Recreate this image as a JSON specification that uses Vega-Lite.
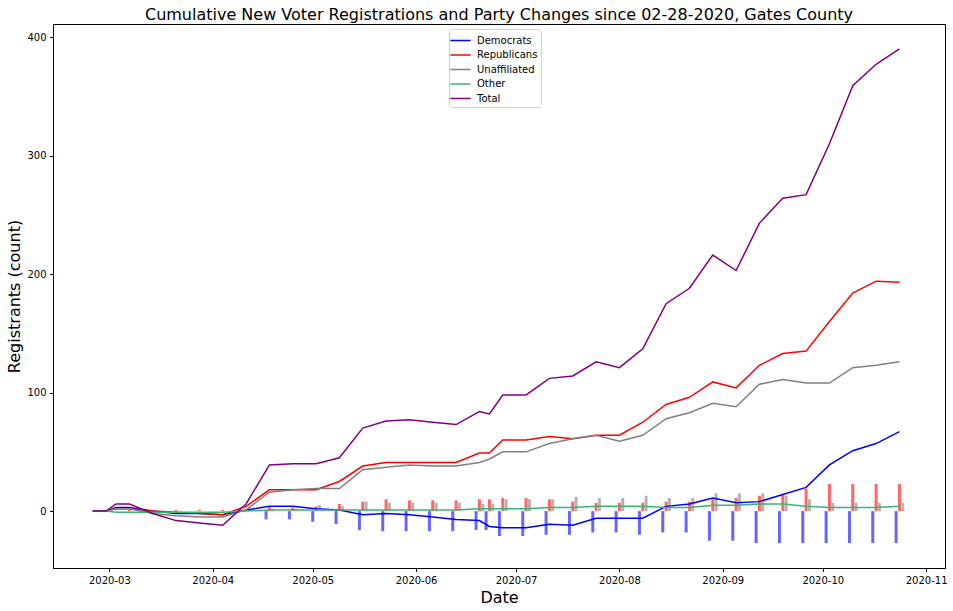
{
  "$schema": "https://vega.github.io/schema/vega-lite/v6.json",
  "width": 892,
  "height": 544,
  "autosize": {"type": "none"},
  "padding": {"left": 53, "top": 24, "right": 8, "bottom": 43},
  "config": {
    "font": "DejaVu Sans",
    "view": {"stroke": "black", "strokeWidth": 1},
    "axis": {"grid": false, "domainColor": "black", "tickColor": "black", "labelColor": "black", "titleColor": "black", "labelFontSize": 10, "titleFontSize": 16, "titleFontWeight": "normal", "tickSize": 3.5, "labelPadding": 3.5, "labelFont": "DejaVu Sans", "titleFont": "DejaVu Sans"},
    "legend": {"labelFont": "DejaVu Sans"}
  },
  "title": {"text": "Cumulative New Voter Registrations and Party Changes since 02-28-2020, Gates County", "fontSize": 16, "fontWeight": "normal", "font": "DejaVu Sans", "color": "black", "anchor": "middle", "offset": 1},
  "datasets": {
    "lines": [
      {"date": "2020/02/25", "series": "Democrats", "count": 0},
      {"date": "2020/02/29", "series": "Democrats", "count": 0},
      {"date": "2020/03/03", "series": "Democrats", "count": 3},
      {"date": "2020/03/07", "series": "Democrats", "count": 3},
      {"date": "2020/03/14", "series": "Democrats", "count": 0},
      {"date": "2020/03/21", "series": "Democrats", "count": -2},
      {"date": "2020/03/28", "series": "Democrats", "count": -2},
      {"date": "2020/04/04", "series": "Democrats", "count": -3},
      {"date": "2020/04/11", "series": "Democrats", "count": 1},
      {"date": "2020/04/18", "series": "Democrats", "count": 4},
      {"date": "2020/04/25", "series": "Democrats", "count": 4},
      {"date": "2020/05/02", "series": "Democrats", "count": 2},
      {"date": "2020/05/09", "series": "Democrats", "count": 1},
      {"date": "2020/05/16", "series": "Democrats", "count": -3},
      {"date": "2020/05/23", "series": "Democrats", "count": -2},
      {"date": "2020/05/30", "series": "Democrats", "count": -3},
      {"date": "2020/06/06", "series": "Democrats", "count": -5},
      {"date": "2020/06/13", "series": "Democrats", "count": -7},
      {"date": "2020/06/20", "series": "Democrats", "count": -8},
      {"date": "2020/06/23", "series": "Democrats", "count": -13},
      {"date": "2020/06/27", "series": "Democrats", "count": -14},
      {"date": "2020/07/04", "series": "Democrats", "count": -14},
      {"date": "2020/07/11", "series": "Democrats", "count": -11},
      {"date": "2020/07/18", "series": "Democrats", "count": -12},
      {"date": "2020/07/25", "series": "Democrats", "count": -6},
      {"date": "2020/08/01", "series": "Democrats", "count": -6},
      {"date": "2020/08/08", "series": "Democrats", "count": -6},
      {"date": "2020/08/15", "series": "Democrats", "count": 4},
      {"date": "2020/08/22", "series": "Democrats", "count": 6},
      {"date": "2020/08/29", "series": "Democrats", "count": 11},
      {"date": "2020/09/05", "series": "Democrats", "count": 7},
      {"date": "2020/09/12", "series": "Democrats", "count": 8},
      {"date": "2020/09/19", "series": "Democrats", "count": 14},
      {"date": "2020/09/26", "series": "Democrats", "count": 20},
      {"date": "2020/10/03", "series": "Democrats", "count": 39},
      {"date": "2020/10/10", "series": "Democrats", "count": 51},
      {"date": "2020/10/17", "series": "Democrats", "count": 57},
      {"date": "2020/10/24", "series": "Democrats", "count": 67},

      {"date": "2020/02/25", "series": "Republicans", "count": 0},
      {"date": "2020/02/29", "series": "Republicans", "count": 0},
      {"date": "2020/03/03", "series": "Republicans", "count": 2},
      {"date": "2020/03/07", "series": "Republicans", "count": 2},
      {"date": "2020/03/14", "series": "Republicans", "count": 0},
      {"date": "2020/03/21", "series": "Republicans", "count": -1},
      {"date": "2020/03/28", "series": "Republicans", "count": -2},
      {"date": "2020/04/04", "series": "Republicans", "count": -3},
      {"date": "2020/04/11", "series": "Republicans", "count": 4},
      {"date": "2020/04/18", "series": "Republicans", "count": 18},
      {"date": "2020/04/25", "series": "Republicans", "count": 18},
      {"date": "2020/05/02", "series": "Republicans", "count": 18},
      {"date": "2020/05/09", "series": "Republicans", "count": 25},
      {"date": "2020/05/16", "series": "Republicans", "count": 38},
      {"date": "2020/05/23", "series": "Republicans", "count": 41},
      {"date": "2020/05/30", "series": "Republicans", "count": 41},
      {"date": "2020/06/06", "series": "Republicans", "count": 41},
      {"date": "2020/06/13", "series": "Republicans", "count": 41},
      {"date": "2020/06/20", "series": "Republicans", "count": 49},
      {"date": "2020/06/23", "series": "Republicans", "count": 49},
      {"date": "2020/06/27", "series": "Republicans", "count": 60},
      {"date": "2020/07/04", "series": "Republicans", "count": 60},
      {"date": "2020/07/11", "series": "Republicans", "count": 63},
      {"date": "2020/07/18", "series": "Republicans", "count": 61},
      {"date": "2020/07/25", "series": "Republicans", "count": 64},
      {"date": "2020/08/01", "series": "Republicans", "count": 64},
      {"date": "2020/08/08", "series": "Republicans", "count": 75},
      {"date": "2020/08/15", "series": "Republicans", "count": 90},
      {"date": "2020/08/22", "series": "Republicans", "count": 96},
      {"date": "2020/08/29", "series": "Republicans", "count": 109},
      {"date": "2020/09/05", "series": "Republicans", "count": 104},
      {"date": "2020/09/12", "series": "Republicans", "count": 123},
      {"date": "2020/09/19", "series": "Republicans", "count": 133},
      {"date": "2020/09/26", "series": "Republicans", "count": 135},
      {"date": "2020/10/03", "series": "Republicans", "count": 160},
      {"date": "2020/10/10", "series": "Republicans", "count": 184},
      {"date": "2020/10/17", "series": "Republicans", "count": 194},
      {"date": "2020/10/24", "series": "Republicans", "count": 193},

      {"date": "2020/02/25", "series": "Unaffiliated", "count": 0},
      {"date": "2020/02/29", "series": "Unaffiliated", "count": 0},
      {"date": "2020/03/03", "series": "Unaffiliated", "count": 2},
      {"date": "2020/03/07", "series": "Unaffiliated", "count": 2},
      {"date": "2020/03/14", "series": "Unaffiliated", "count": -2},
      {"date": "2020/03/21", "series": "Unaffiliated", "count": -4},
      {"date": "2020/03/28", "series": "Unaffiliated", "count": -5},
      {"date": "2020/04/04", "series": "Unaffiliated", "count": -5},
      {"date": "2020/04/11", "series": "Unaffiliated", "count": 1},
      {"date": "2020/04/18", "series": "Unaffiliated", "count": 16},
      {"date": "2020/04/25", "series": "Unaffiliated", "count": 18},
      {"date": "2020/05/02", "series": "Unaffiliated", "count": 19},
      {"date": "2020/05/09", "series": "Unaffiliated", "count": 19},
      {"date": "2020/05/16", "series": "Unaffiliated", "count": 35},
      {"date": "2020/05/23", "series": "Unaffiliated", "count": 37},
      {"date": "2020/05/30", "series": "Unaffiliated", "count": 39},
      {"date": "2020/06/06", "series": "Unaffiliated", "count": 38},
      {"date": "2020/06/13", "series": "Unaffiliated", "count": 38},
      {"date": "2020/06/20", "series": "Unaffiliated", "count": 41},
      {"date": "2020/06/23", "series": "Unaffiliated", "count": 44},
      {"date": "2020/06/27", "series": "Unaffiliated", "count": 50},
      {"date": "2020/07/04", "series": "Unaffiliated", "count": 50},
      {"date": "2020/07/11", "series": "Unaffiliated", "count": 57},
      {"date": "2020/07/18", "series": "Unaffiliated", "count": 61},
      {"date": "2020/07/25", "series": "Unaffiliated", "count": 64},
      {"date": "2020/08/01", "series": "Unaffiliated", "count": 59},
      {"date": "2020/08/08", "series": "Unaffiliated", "count": 64},
      {"date": "2020/08/15", "series": "Unaffiliated", "count": 78},
      {"date": "2020/08/22", "series": "Unaffiliated", "count": 83},
      {"date": "2020/08/29", "series": "Unaffiliated", "count": 91},
      {"date": "2020/09/05", "series": "Unaffiliated", "count": 88},
      {"date": "2020/09/12", "series": "Unaffiliated", "count": 107},
      {"date": "2020/09/19", "series": "Unaffiliated", "count": 111},
      {"date": "2020/09/26", "series": "Unaffiliated", "count": 108},
      {"date": "2020/10/03", "series": "Unaffiliated", "count": 108},
      {"date": "2020/10/10", "series": "Unaffiliated", "count": 121},
      {"date": "2020/10/17", "series": "Unaffiliated", "count": 123},
      {"date": "2020/10/24", "series": "Unaffiliated", "count": 126},

      {"date": "2020/02/25", "series": "Other", "count": 0},
      {"date": "2020/02/29", "series": "Other", "count": 0},
      {"date": "2020/03/03", "series": "Other", "count": -1},
      {"date": "2020/03/07", "series": "Other", "count": -1},
      {"date": "2020/03/14", "series": "Other", "count": -1},
      {"date": "2020/03/21", "series": "Other", "count": -1},
      {"date": "2020/03/28", "series": "Other", "count": -1},
      {"date": "2020/04/04", "series": "Other", "count": -1},
      {"date": "2020/04/11", "series": "Other", "count": 0},
      {"date": "2020/04/18", "series": "Other", "count": 1},
      {"date": "2020/04/25", "series": "Other", "count": 1},
      {"date": "2020/05/02", "series": "Other", "count": 1},
      {"date": "2020/05/09", "series": "Other", "count": 1},
      {"date": "2020/05/16", "series": "Other", "count": 1},
      {"date": "2020/05/23", "series": "Other", "count": 1},
      {"date": "2020/05/30", "series": "Other", "count": 1},
      {"date": "2020/06/06", "series": "Other", "count": 1},
      {"date": "2020/06/13", "series": "Other", "count": 1},
      {"date": "2020/06/20", "series": "Other", "count": 2},
      {"date": "2020/06/23", "series": "Other", "count": 2},
      {"date": "2020/06/27", "series": "Other", "count": 2},
      {"date": "2020/07/04", "series": "Other", "count": 2},
      {"date": "2020/07/11", "series": "Other", "count": 3},
      {"date": "2020/07/18", "series": "Other", "count": 3},
      {"date": "2020/07/25", "series": "Other", "count": 4},
      {"date": "2020/08/01", "series": "Other", "count": 4},
      {"date": "2020/08/08", "series": "Other", "count": 4},
      {"date": "2020/08/15", "series": "Other", "count": 3},
      {"date": "2020/08/22", "series": "Other", "count": 3},
      {"date": "2020/08/29", "series": "Other", "count": 5},
      {"date": "2020/09/05", "series": "Other", "count": 5},
      {"date": "2020/09/12", "series": "Other", "count": 6},
      {"date": "2020/09/19", "series": "Other", "count": 6},
      {"date": "2020/09/26", "series": "Other", "count": 4},
      {"date": "2020/10/03", "series": "Other", "count": 3},
      {"date": "2020/10/10", "series": "Other", "count": 3},
      {"date": "2020/10/17", "series": "Other", "count": 3},
      {"date": "2020/10/24", "series": "Other", "count": 4},

      {"date": "2020/02/25", "series": "Total", "count": 0},
      {"date": "2020/02/29", "series": "Total", "count": 0},
      {"date": "2020/03/03", "series": "Total", "count": 6},
      {"date": "2020/03/07", "series": "Total", "count": 6},
      {"date": "2020/03/14", "series": "Total", "count": -2},
      {"date": "2020/03/21", "series": "Total", "count": -8},
      {"date": "2020/03/28", "series": "Total", "count": -10},
      {"date": "2020/04/04", "series": "Total", "count": -12},
      {"date": "2020/04/11", "series": "Total", "count": 6},
      {"date": "2020/04/18", "series": "Total", "count": 39},
      {"date": "2020/04/25", "series": "Total", "count": 40},
      {"date": "2020/05/02", "series": "Total", "count": 40},
      {"date": "2020/05/09", "series": "Total", "count": 45},
      {"date": "2020/05/16", "series": "Total", "count": 70},
      {"date": "2020/05/23", "series": "Total", "count": 76},
      {"date": "2020/05/30", "series": "Total", "count": 77},
      {"date": "2020/06/06", "series": "Total", "count": 75},
      {"date": "2020/06/13", "series": "Total", "count": 73},
      {"date": "2020/06/20", "series": "Total", "count": 84},
      {"date": "2020/06/23", "series": "Total", "count": 82},
      {"date": "2020/06/27", "series": "Total", "count": 98},
      {"date": "2020/07/04", "series": "Total", "count": 98},
      {"date": "2020/07/11", "series": "Total", "count": 112},
      {"date": "2020/07/18", "series": "Total", "count": 114},
      {"date": "2020/07/25", "series": "Total", "count": 126},
      {"date": "2020/08/01", "series": "Total", "count": 121},
      {"date": "2020/08/08", "series": "Total", "count": 137},
      {"date": "2020/08/15", "series": "Total", "count": 175},
      {"date": "2020/08/22", "series": "Total", "count": 188},
      {"date": "2020/08/29", "series": "Total", "count": 216},
      {"date": "2020/09/05", "series": "Total", "count": 203},
      {"date": "2020/09/12", "series": "Total", "count": 243},
      {"date": "2020/09/19", "series": "Total", "count": 264},
      {"date": "2020/09/26", "series": "Total", "count": 267},
      {"date": "2020/10/03", "series": "Total", "count": 310},
      {"date": "2020/10/10", "series": "Total", "count": 359},
      {"date": "2020/10/17", "series": "Total", "count": 377},
      {"date": "2020/10/24", "series": "Total", "count": 390}
    ],
    "bars": [
      {"date": "2020/03/07", "party": "Republicans", "count": 1},
      {"date": "2020/03/21", "party": "Republicans", "count": 1},
      {"date": "2020/03/28", "party": "Republicans", "count": 1},
      {"date": "2020/04/04", "party": "Republicans", "count": 1},
      {"date": "2020/04/11", "party": "Republicans", "count": 1},

      {"date": "2020/04/18", "party": "Democrats", "count": -7},
      {"date": "2020/04/25", "party": "Democrats", "count": -7},
      {"date": "2020/05/02", "party": "Democrats", "count": -9},
      {"date": "2020/05/09", "party": "Democrats", "count": -11},
      {"date": "2020/05/16", "party": "Democrats", "count": -16},
      {"date": "2020/05/23", "party": "Democrats", "count": -17},
      {"date": "2020/05/30", "party": "Democrats", "count": -17},
      {"date": "2020/06/06", "party": "Democrats", "count": -17},
      {"date": "2020/06/13", "party": "Democrats", "count": -17},
      {"date": "2020/06/20", "party": "Democrats", "count": -16},
      {"date": "2020/06/23", "party": "Democrats", "count": -16},
      {"date": "2020/06/27", "party": "Democrats", "count": -21},
      {"date": "2020/07/04", "party": "Democrats", "count": -21},
      {"date": "2020/07/11", "party": "Democrats", "count": -20},
      {"date": "2020/07/18", "party": "Democrats", "count": -20},
      {"date": "2020/07/25", "party": "Democrats", "count": -18},
      {"date": "2020/08/01", "party": "Democrats", "count": -18},
      {"date": "2020/08/08", "party": "Democrats", "count": -20},
      {"date": "2020/08/15", "party": "Democrats", "count": -18},
      {"date": "2020/08/22", "party": "Democrats", "count": -18},
      {"date": "2020/08/29", "party": "Democrats", "count": -25},
      {"date": "2020/09/05", "party": "Democrats", "count": -25},
      {"date": "2020/09/12", "party": "Democrats", "count": -27},
      {"date": "2020/09/19", "party": "Democrats", "count": -27},
      {"date": "2020/09/26", "party": "Democrats", "count": -27},
      {"date": "2020/10/03", "party": "Democrats", "count": -27},
      {"date": "2020/10/10", "party": "Democrats", "count": -27},
      {"date": "2020/10/17", "party": "Democrats", "count": -27},
      {"date": "2020/10/24", "party": "Democrats", "count": -27},

      {"date": "2020/04/18", "party": "Republicans", "count": 4},
      {"date": "2020/04/25", "party": "Republicans", "count": 3},
      {"date": "2020/05/02", "party": "Republicans", "count": 4},
      {"date": "2020/05/09", "party": "Republicans", "count": 6},
      {"date": "2020/05/16", "party": "Republicans", "count": 8},
      {"date": "2020/05/23", "party": "Republicans", "count": 10},
      {"date": "2020/05/30", "party": "Republicans", "count": 9},
      {"date": "2020/06/06", "party": "Republicans", "count": 9},
      {"date": "2020/06/13", "party": "Republicans", "count": 9},
      {"date": "2020/06/20", "party": "Republicans", "count": 10},
      {"date": "2020/06/23", "party": "Republicans", "count": 10},
      {"date": "2020/06/27", "party": "Republicans", "count": 11},
      {"date": "2020/07/04", "party": "Republicans", "count": 11},
      {"date": "2020/07/11", "party": "Republicans", "count": 10},
      {"date": "2020/07/18", "party": "Republicans", "count": 8},
      {"date": "2020/07/25", "party": "Republicans", "count": 7},
      {"date": "2020/08/01", "party": "Republicans", "count": 7},
      {"date": "2020/08/08", "party": "Republicans", "count": 7},
      {"date": "2020/08/15", "party": "Republicans", "count": 8},
      {"date": "2020/08/22", "party": "Republicans", "count": 8},
      {"date": "2020/08/29", "party": "Republicans", "count": 10},
      {"date": "2020/09/05", "party": "Republicans", "count": 11},
      {"date": "2020/09/12", "party": "Republicans", "count": 13},
      {"date": "2020/09/19", "party": "Republicans", "count": 14},
      {"date": "2020/09/26", "party": "Republicans", "count": 19},
      {"date": "2020/10/03", "party": "Republicans", "count": 23},
      {"date": "2020/10/10", "party": "Republicans", "count": 23},
      {"date": "2020/10/17", "party": "Republicans", "count": 23},
      {"date": "2020/10/24", "party": "Republicans", "count": 23},

      {"date": "2020/04/18", "party": "Unaffiliated", "count": 2},
      {"date": "2020/04/25", "party": "Unaffiliated", "count": 2},
      {"date": "2020/05/02", "party": "Unaffiliated", "count": 5},
      {"date": "2020/05/09", "party": "Unaffiliated", "count": 4},
      {"date": "2020/05/16", "party": "Unaffiliated", "count": 8},
      {"date": "2020/05/23", "party": "Unaffiliated", "count": 7},
      {"date": "2020/05/30", "party": "Unaffiliated", "count": 7},
      {"date": "2020/06/06", "party": "Unaffiliated", "count": 7},
      {"date": "2020/06/13", "party": "Unaffiliated", "count": 7},
      {"date": "2020/06/20", "party": "Unaffiliated", "count": 6},
      {"date": "2020/06/23", "party": "Unaffiliated", "count": 6},
      {"date": "2020/06/27", "party": "Unaffiliated", "count": 10},
      {"date": "2020/07/04", "party": "Unaffiliated", "count": 10},
      {"date": "2020/07/11", "party": "Unaffiliated", "count": 10},
      {"date": "2020/07/18", "party": "Unaffiliated", "count": 12},
      {"date": "2020/07/25", "party": "Unaffiliated", "count": 11},
      {"date": "2020/08/01", "party": "Unaffiliated", "count": 11},
      {"date": "2020/08/08", "party": "Unaffiliated", "count": 13},
      {"date": "2020/08/15", "party": "Unaffiliated", "count": 11},
      {"date": "2020/08/22", "party": "Unaffiliated", "count": 11},
      {"date": "2020/08/29", "party": "Unaffiliated", "count": 15},
      {"date": "2020/09/05", "party": "Unaffiliated", "count": 15},
      {"date": "2020/09/12", "party": "Unaffiliated", "count": 15},
      {"date": "2020/09/19", "party": "Unaffiliated", "count": 13},
      {"date": "2020/09/26", "party": "Unaffiliated", "count": 10},
      {"date": "2020/10/03", "party": "Unaffiliated", "count": 7},
      {"date": "2020/10/10", "party": "Unaffiliated", "count": 7},
      {"date": "2020/10/17", "party": "Unaffiliated", "count": 7},
      {"date": "2020/10/24", "party": "Unaffiliated", "count": 7}
    ]
  },
  "encoding": {
    "x": {
      "field": "date", "type": "temporal",
      "scale": {"domain": [{"year": 2020, "month": 2, "date": 13, "hours": 2}, {"year": 2020, "month": 11, "date": 6, "hours": 16}], "padding": 0},
      "axis": {"title": "Date", "format": "%Y-%m", "tickCount": {"interval": "month", "step": 1}, "titleY": 29, "titleBaseline": "middle", "labelFlush": false}
    },
    "y": {
      "field": "count", "type": "quantitative",
      "scale": {"domain": [-48, 411], "nice": false, "zero": false, "padding": 0},
      "axis": {"title": "Registrants (count)", "values": [0, 100, 200, 300, 400], "titleX": -39, "titleY": 272, "titleAngle": -90, "titleAlign": "center", "titleBaseline": "middle"}
    }
  },
  "layer": [
    {
      "data": {"name": "bars"},
      "transform": [{"filter": "datum.party === 'Democrats'"}],
      "mark": {"type": "bar", "width": 3, "xOffset": -3.33, "color": "#6666ff"}
    },
    {
      "data": {"name": "bars"},
      "transform": [{"filter": "datum.party === 'Republicans'"}],
      "mark": {"type": "bar", "width": 3, "xOffset": 0, "color": "#ff6666"}
    },
    {
      "data": {"name": "bars"},
      "transform": [{"filter": "datum.party === 'Unaffiliated'"}],
      "mark": {"type": "bar", "width": 3, "xOffset": 3.33, "color": "#b3b3b3"}
    },
    {
      "data": {"name": "lines"},
      "mark": {"type": "line", "strokeWidth": 1.5},
      "encoding": {
        "color": {
          "field": "series", "type": "nominal",
          "scale": {"domain": ["Democrats", "Republicans", "Unaffiliated", "Other", "Total"], "range": ["#0000ff", "#ff0000", "#808080", "#3cb371", "#800080"]},
          "legend": {"title": null, "orient": "none", "legendX": 396, "legendY": 5, "labelFontSize": 10, "labelColor": "black", "symbolType": "M-1.35,0H1.35", "symbolSize": 225, "symbolStrokeWidth": 1.5, "rowPadding": 0.5, "padding": 3, "strokeColor": "#d0d0d0", "fillColor": "white", "cornerRadius": 3, "labelOffset": 8}
        }
      }
    }
  ]
}
